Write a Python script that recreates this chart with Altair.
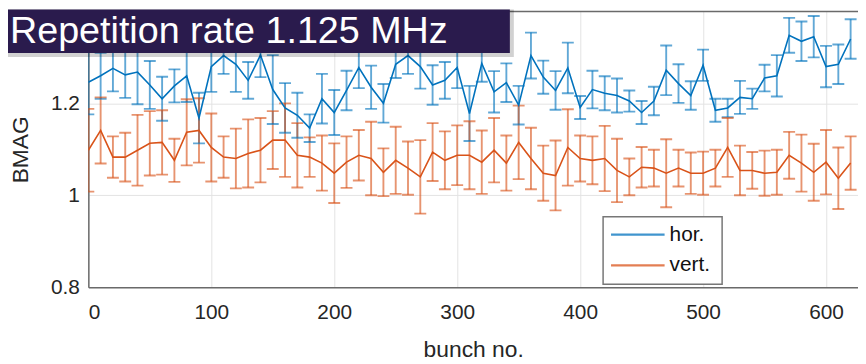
import altair as alt
import pandas as pd

bunch = [0, 10, 20, 30, 40, 50, 60, 70, 80, 90, 100, 110, 120, 130, 140, 150, 160, 170, 180, 190,
         200, 210, 220, 230, 240, 250, 260, 270, 280, 290, 300, 310, 320, 330, 340, 350, 360, 370, 380, 390,
         400, 410, 420, 430, 440, 450, 460, 470, 480, 490, 500, 510, 520, 530, 540, 550, 560, 570, 580, 590,
         600, 610, 620]

hor_val = [1.246, 1.26, 1.276, 1.262, 1.268, 1.24, 1.21, 1.238, 1.26, 1.168,
           1.28, 1.304, 1.285, 1.25, 1.305, 1.23, 1.19, 1.174, 1.146, 1.21,
           1.18, 1.228, 1.278, 1.235, 1.2, 1.285, 1.304, 1.28, 1.24, 1.25,
           1.278, 1.178, 1.287, 1.225, 1.245, 1.196, 1.304, 1.257, 1.228, 1.277,
           1.191, 1.23, 1.222, 1.217, 1.205, 1.18, 1.205, 1.272, 1.243, 1.217,
           1.283, 1.185, 1.19, 1.213, 1.21, 1.255, 1.26, 1.348, 1.335, 1.345,
           1.28, 1.285, 1.34]
hor_err = [0.07, 0.05, 0.05, 0.05, 0.07, 0.052, 0.048, 0.036, 0.057, 0.055,
           0.055, 0.04, 0.06, 0.04, 0.048, 0.075, 0.054, 0.049, 0.03, 0.054,
           0.049, 0.043, 0.045, 0.047, 0.042, 0.03, 0.04, 0.048, 0.043, 0.04,
           0.045, 0.06, 0.04, 0.045, 0.042, 0.042, 0.05, 0.036, 0.042, 0.055,
           0.025, 0.041, 0.037, 0.037, 0.023, 0.025, 0.031, 0.054, 0.042, 0.031,
           0.034, 0.025, 0.02, 0.036, 0.022, 0.029, 0.045, 0.038, 0.043, 0.045,
           0.045, 0.043, 0.043]
vert_val = [1.098, 1.141, 1.083, 1.083, 1.098, 1.113, 1.115, 1.076, 1.137, 1.141,
            1.104, 1.083, 1.08, 1.091, 1.098, 1.12, 1.12, 1.087, 1.083, 1.07,
            1.048, 1.072, 1.087, 1.08, 1.05, 1.076, 1.059, 1.04, 1.094, 1.076,
            1.087, 1.087, 1.072, 1.098, 1.07, 1.115, 1.08, 1.048, 1.043, 1.104,
            1.08, 1.076, 1.08, 1.054, 1.04, 1.061, 1.059, 1.048, 1.059, 1.048,
            1.048, 1.059, 1.104, 1.054, 1.054, 1.048, 1.05, 1.087, 1.07, 1.05,
            1.072, 1.037, 1.07]
vert_err = [0.09, 0.072, 0.045, 0.053, 0.077, 0.07, 0.07, 0.047, 0.072, 0.07,
            0.074, 0.045, 0.065, 0.074, 0.07, 0.063, 0.08, 0.07, 0.043, 0.06,
            0.065, 0.056, 0.055, 0.08, 0.052, 0.073, 0.058, 0.08, 0.063, 0.063,
            0.065, 0.074, 0.069, 0.07, 0.06, 0.08, 0.067, 0.06, 0.076, 0.083,
            0.05, 0.052, 0.071, 0.069, 0.04, 0.044, 0.04, 0.074, 0.04, 0.045,
            0.047, 0.04, 0.064, 0.054, 0.04, 0.049, 0.049, 0.051, 0.062, 0.062,
            0.07, 0.067, 0.058]

series_names = ["hor.", "vert."]
series_colors = ["#0072BD", "#D95319"]
x_ticks = [0, 100, 200, 300, 400, 500, 600]
y_ticks = [0.8, 1.0, 1.2]
title_text = "Repetition rate 1.125 MHz"

rows = []
for name, vals, errs in [("hor.", hor_val, hor_err), ("vert.", vert_val, vert_err)]:
    for b, v, e in zip(bunch, vals, errs):
        rows.append({"series": name, "bunch": b, "val": v, "lo": v - e, "hi": v + e})
df = pd.DataFrame(rows)

W, H = 776, 278
FONT = "Liberation Sans"

xs = alt.X("bunch:Q", scale=alt.Scale(domain=[0, 626], nice=False, zero=False),
           axis=alt.Axis(values=x_ticks, title="bunch no.", labelPadding=15, titlePadding=16,
                         grid=True, tickSize=0, format="d"))
ys_axis = alt.Axis(values=y_ticks, title="BMAG", labelPadding=9, titlePadding=18,
                   grid=True, tickSize=0, format="~g")
yscale = alt.Scale(domain=[0.8, 1.4], nice=False, zero=False)
col = alt.Color("series:N", scale=alt.Scale(domain=series_names, range=series_colors), legend=None)

base = alt.Chart(df)
bars = base.mark_rule(strokeWidth=1.9, opacity=0.62, clip=True).encode(
    x=xs, y=alt.Y("lo:Q", scale=yscale, axis=ys_axis), y2="hi:Q", color=col)
cap_lo = base.mark_tick(orient="horizontal", size=12, thickness=1.9, opacity=0.62, clip=True).encode(
    x="bunch:Q", y=alt.Y("lo:Q", scale=yscale), color=col)
cap_hi = base.mark_tick(orient="horizontal", size=12, thickness=1.9, opacity=0.62, clip=True).encode(
    x="bunch:Q", y=alt.Y("hi:Q", scale=yscale), color=col)
lines = base.mark_line(strokeWidth=1.6, clip=True).encode(
    x="bunch:Q", y=alt.Y("val:Q", scale=yscale), color=col, detail="series:N")

one = alt.Chart(pd.DataFrame({"k": [0]}))
top_border = one.mark_rule(color="#6a6a6a", strokeWidth=1.5).encode(
    x=alt.value(0), x2=alt.value(W), y=alt.value(0))

# legend box
leg_box = one.mark_rect(fill="white", stroke="#777777", strokeWidth=1.5).encode(
    x=alt.value(519), x2=alt.value(639), y=alt.value(207), y2=alt.value(275))
leg_df = pd.DataFrame({"series": series_names, "ly": [225, 256], "col": series_colors})
leg_lines = alt.Chart(leg_df).mark_rule(strokeWidth=2.2, opacity=0.75).encode(
    x=alt.value(527), x2=alt.value(581), y=alt.Y("ly:Q", scale=None),
    color=alt.Color("col:N", scale=None))
leg_text = alt.Chart(leg_df).mark_text(align="left", baseline="middle", font=FONT,
                                       fontSize=21, color="#111111").encode(
    x=alt.value(586), y=alt.Y("ly:Q", scale=None), text="series:N")

# title box
shadow = one.mark_rect(fill="#000000", opacity=0.18).encode(
    x=alt.value(-81), x2=alt.value(429), y=alt.value(-2), y2=alt.value(46))
tbox = one.mark_rect(fill="#2a1b4d").encode(
    x=alt.value(-81), x2=alt.value(425), y=alt.value(-2), y2=alt.value(42))
ttext = one.mark_text(align="left", baseline="alphabetic", font=FONT, fontSize=38,
                      color="white").encode(
    x=alt.value(-79), y=alt.value(32), text=alt.value(title_text))

chart = alt.layer(
    bars, cap_lo, cap_hi, lines, top_border, leg_box, leg_lines, leg_text, shadow, tbox, ttext
).properties(
    width=W, height=H,
    background="white",
    autosize=alt.AutoSizeParams(type="none"),
    padding={"left": 81, "top": 2, "right": 0, "bottom": 74},
).configure_view(stroke=None).configure_axis(
    labelFont=FONT, titleFont=FONT, labelFontSize=21, titleFontSize=23,
    labelColor="#262626", titleColor="#262626", titleFontWeight="normal",
    domainColor="#6a6a6a", domainWidth=1.5, gridColor="#e3e3e3", gridWidth=1,
)

chart.save("out.html", embed_options={"renderer": "svg", "actions": False})
